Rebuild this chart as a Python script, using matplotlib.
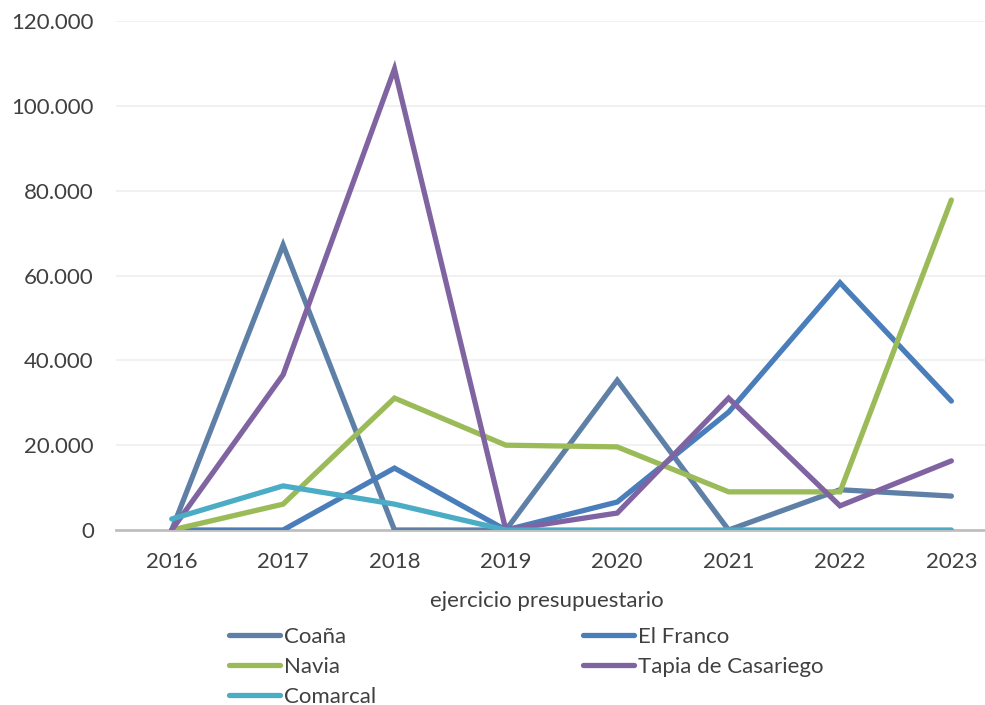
import matplotlib.pyplot as plt
from matplotlib.ticker import FuncFormatter

plt.rcParams['font.family'] = ['Lato', 'DejaVu Sans']
plt.rcParams['font.size'] = 16

years = ['2016', '2017', '2018', '2019', '2020', '2021', '2022', '2023']
coana = [0, 67200, 0, 0, 35300, 0, 9500, 8000]
el_franco = [0, 0, 14600, 0, 6600, 27800, 58300, 30400]
navia = [0, 6100, 31100, 20000, 19600, 9000, 9000, 77800]
tapia = [0, 36600, 108700, 0, 4000, 31100, 5700, 16300]
comarcal = [2600, 10400, 6100, 0, 0, 0, 0, 0]

series = [
    ('Coaña', coana, '#5F80A6'),
    ('El Franco', el_franco, '#4A7EBB'),
    ('Navia', navia, '#9BBB59'),
    ('Tapia de Casariego', tapia, '#8064A2'),
    ('Comarcal', comarcal, '#4BACC6'),
]

fig = plt.figure(figsize=(9.85, 7.05), dpi=100)
ax = fig.add_axes([0.1178, 0.2482, 0.9046, 0.722])

x = range(len(years))
lines = {}
for name, vals, col in series:
    ln, = ax.plot(x, vals, color=col, lw=3.8, solid_capstyle='round',
                  solid_joinstyle='miter', label=name, zorder=3)
    lines[name] = ln

ax.set_xlim(-0.5, len(years) - 0.5)
ax.set_ylim(0, 120000)
ax.set_yticks(range(0, 120001, 20000))
ax.yaxis.set_major_formatter(FuncFormatter(lambda v, p: f'{int(v):,}'.replace(',', '.')))
ax.set_xticks(list(x))
ax.set_xticklabels(years)

ax.grid(axis='y', color='#EFEFEF', lw=1.2, zorder=0)
for s in ['top', 'right', 'left']:
    ax.spines[s].set_visible(False)
ax.spines['bottom'].set_color('#BFBFBF')
ax.spines['bottom'].set_linewidth(2)
ax.spines['bottom'].set_zorder(2)
ax.tick_params(axis='both', length=0, colors='#404040', labelsize=16)
ax.tick_params(axis='x', pad=16)
ax.tick_params(axis='y', pad=16)

fig.text(0.555, 0.148, 'ejercicio presupuestario', ha='center', va='center',
         fontsize=16, color='#404040')

# legend fills column-wise, so reorder to get the row layout
order = ['Coaña', 'Navia', 'Comarcal', 'El Franco', 'Tapia de Casariego']
leg = fig.legend([lines[n] for n in order], order, ncol=2,
                 loc='upper left', bbox_to_anchor=(0.232, 0.111),
                 frameon=False, handlelength=2.3, handletextpad=0.2,
                 columnspacing=9.3, labelspacing=0.45, fontsize=16,
                 borderaxespad=0, borderpad=0)
for t in leg.get_texts():
    t.set_color('#404040')

fig.savefig('out.png', dpi=100)
